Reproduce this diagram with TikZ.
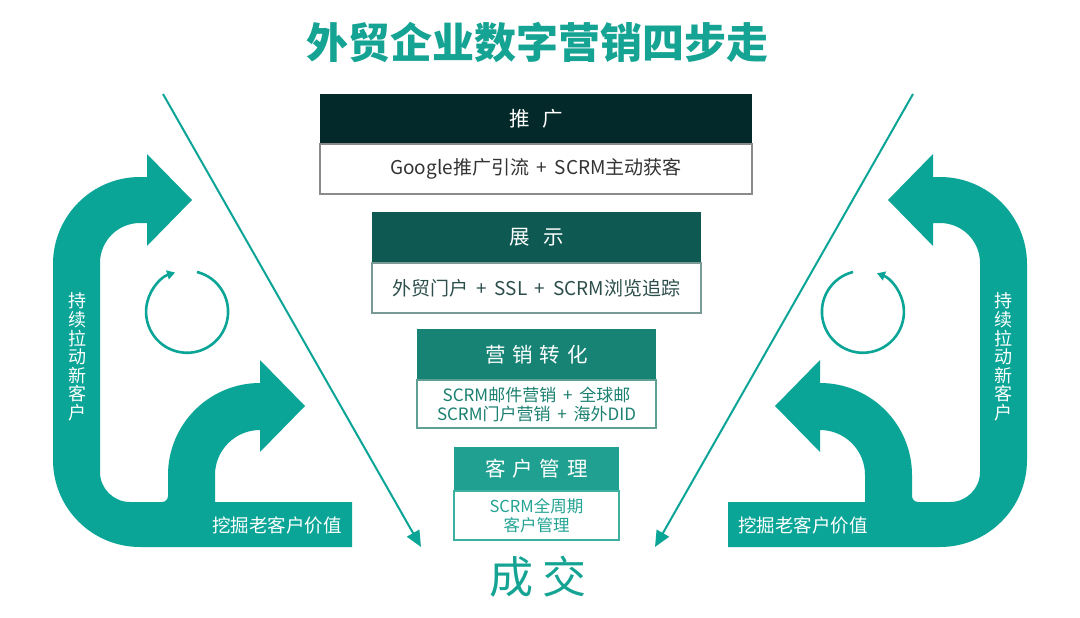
\documentclass[tikz,border=0pt]{standalone}
\usepackage{fontspec}
\setmainfont{Noto Sans CJK SC}
\usetikzlibrary{arrows.meta}
\definecolor{arrowc}{HTML}{0AA596}
\definecolor{titlec}{HTML}{15A393}
\definecolor{hdA}{HTML}{03292A}
\definecolor{hdB}{HTML}{0E5A52}
\definecolor{hdC}{HTML}{168374}
\definecolor{hdD}{HTML}{1FA090}
\definecolor{txA}{HTML}{333333}
\definecolor{txB}{HTML}{2C4E4A}
\definecolor{txC}{HTML}{1A8070}
\definecolor{txD}{HTML}{23A393}
\definecolor{bdA}{HTML}{8A8A8A}
\definecolor{bdB}{HTML}{7A9A95}
\definecolor{bdC}{HTML}{5FA095}
\definecolor{bdD}{HTML}{3DB0A0}
\newcommand\plus{\hspace{0.4em}+\hspace{0.4em}}
\tikzset{
  hdr/.style={rectangle, inner sep=0pt, text=white, font=\fontsize{20.5}{24}\selectfont},
  bodybox/.style={rectangle, draw=#1, line width=1.2pt, fill=white, inner sep=0pt, align=center},
  vtext/.style={text=white, align=center, inner sep=0pt, font=\fontsize{18}{18.6}\selectfont},
  btext/.style={text=white, inner sep=0pt, font=\fontsize{18.5}{22}\selectfont},
  diag/.style={arrowc, line width=2pt, -{Triangle[length=16pt,width=14pt]}},
  cyc/.style={arrowc, line width=2.6pt, -{Triangle[length=8pt,width=9pt]}}
}
\newcommand\sideart[1]{%
  \fill[arrowc] (352,547) -- (140,547) arc[start angle=90,end angle=180,radius=87]
    -- (53,264) arc[start angle=180,end angle=270,radius=87]
    -- (147,177) -- (147,154) -- (192,200) -- (147,246) -- (147,223) -- (140,223)
    arc[start angle=270,end angle=180,radius=40]
    -- (100,472) arc[start angle=180,end angle=90,radius=30]
    -- (352,502) -- cycle;
  \fill[arrowc] (162,502) arc[start angle=90,end angle=0,radius=6]
    -- (168,475) arc[start angle=180,end angle=270,radius=92]
    -- (260,360) -- (305,406) -- (260,452) -- (260,430)
    arc[start angle=270,end angle=180,radius=45]
    -- (215,502) -- cycle;
  \node[vtext] (#1v) at (77,357) {持\\续\\拉\\动\\新\\客\\户};
  \node[btext] (#1b) at (277,525) {挖掘老客户价值};
}
\begin{document}
\begin{tikzpicture}[x=1pt,y=-1pt]
\useasboundingbox (0,0) rectangle (1080,618);
\fill[white] (0,0) rectangle (1080,618);
% title
\node[text=titlec, font=\fontsize{42}{50}\selectfont\bfseries] (title) at (537,42) {外贸企业数字营销四步走};
% side arrows
\sideart{L}
\begin{scope}[shift={(1080,0)}, xscale=-1]
\sideart{R}
\end{scope}
% cycle arrows
\coordinate (cl) at (197,272);
\draw[cyc] (cl) arc[start angle=-76,end angle=253,radius=41];
\coordinate (cr) at (853,272);
\draw[cyc] (cr) arc[start angle=256,end angle=-70,radius=41];
% diagonal lines
\coordinate (la) at (163,94);
\coordinate (lb) at (421,547);
\coordinate (ra) at (913,94);
\coordinate (rb) at (655,547);
\draw[diag] (la) -- (lb);
\draw[diag] (ra) -- (rb);
% boxes
\node[hdr, fill=hdA, minimum width=432pt, minimum height=50pt] (h1) at (536,119) {推\hspace{13pt}广};
\node[bodybox=bdA, minimum width=432pt, minimum height=50pt, text=txA, font=\fontsize{19}{22}\selectfont] (b1) at (536,169) {Google推广引流\plus SCRM主动获客};
\node[hdr, fill=hdB, minimum width=329pt, minimum height=51pt] (h2) at (536.5,237.5) {展\hspace{13pt}示};
\node[bodybox=bdB, minimum width=329pt, minimum height=50pt, text=txB, font=\fontsize{19}{22}\selectfont] (b2) at (536.5,288) {外贸门户\plus SSL\plus SCRM浏览追踪};
\node[hdr, fill=hdC, minimum width=239pt, minimum height=51pt] (h3) at (536.5,354.5) {营\hspace{7pt}销\hspace{7pt}转\hspace{7pt}化};
\node[bodybox=bdC, minimum width=239pt, minimum height=48pt, text=txC, font=\fontsize{17}{19}\selectfont] (b3) at (536.5,404) {SCRM邮件营销\plus 全球邮\\SCRM门户营销\plus 海外DID};
\node[hdr, fill=hdD, minimum width=165pt, minimum height=44pt] (h4) at (536.5,469) {客\hspace{7pt}户\hspace{7pt}管\hspace{7pt}理};
\node[bodybox=bdD, minimum width=165pt, minimum height=49pt, text=txD, font=\fontsize{16.5}{18.5}\selectfont] (b4) at (536.5,515.5) {SCRM全周期\\客户管理};
% result
\node[text=titlec, font=\fontsize{44}{50}\selectfont] (deal) at (538,577) {成\hspace{10pt}交};
\end{tikzpicture}
\end{document}
